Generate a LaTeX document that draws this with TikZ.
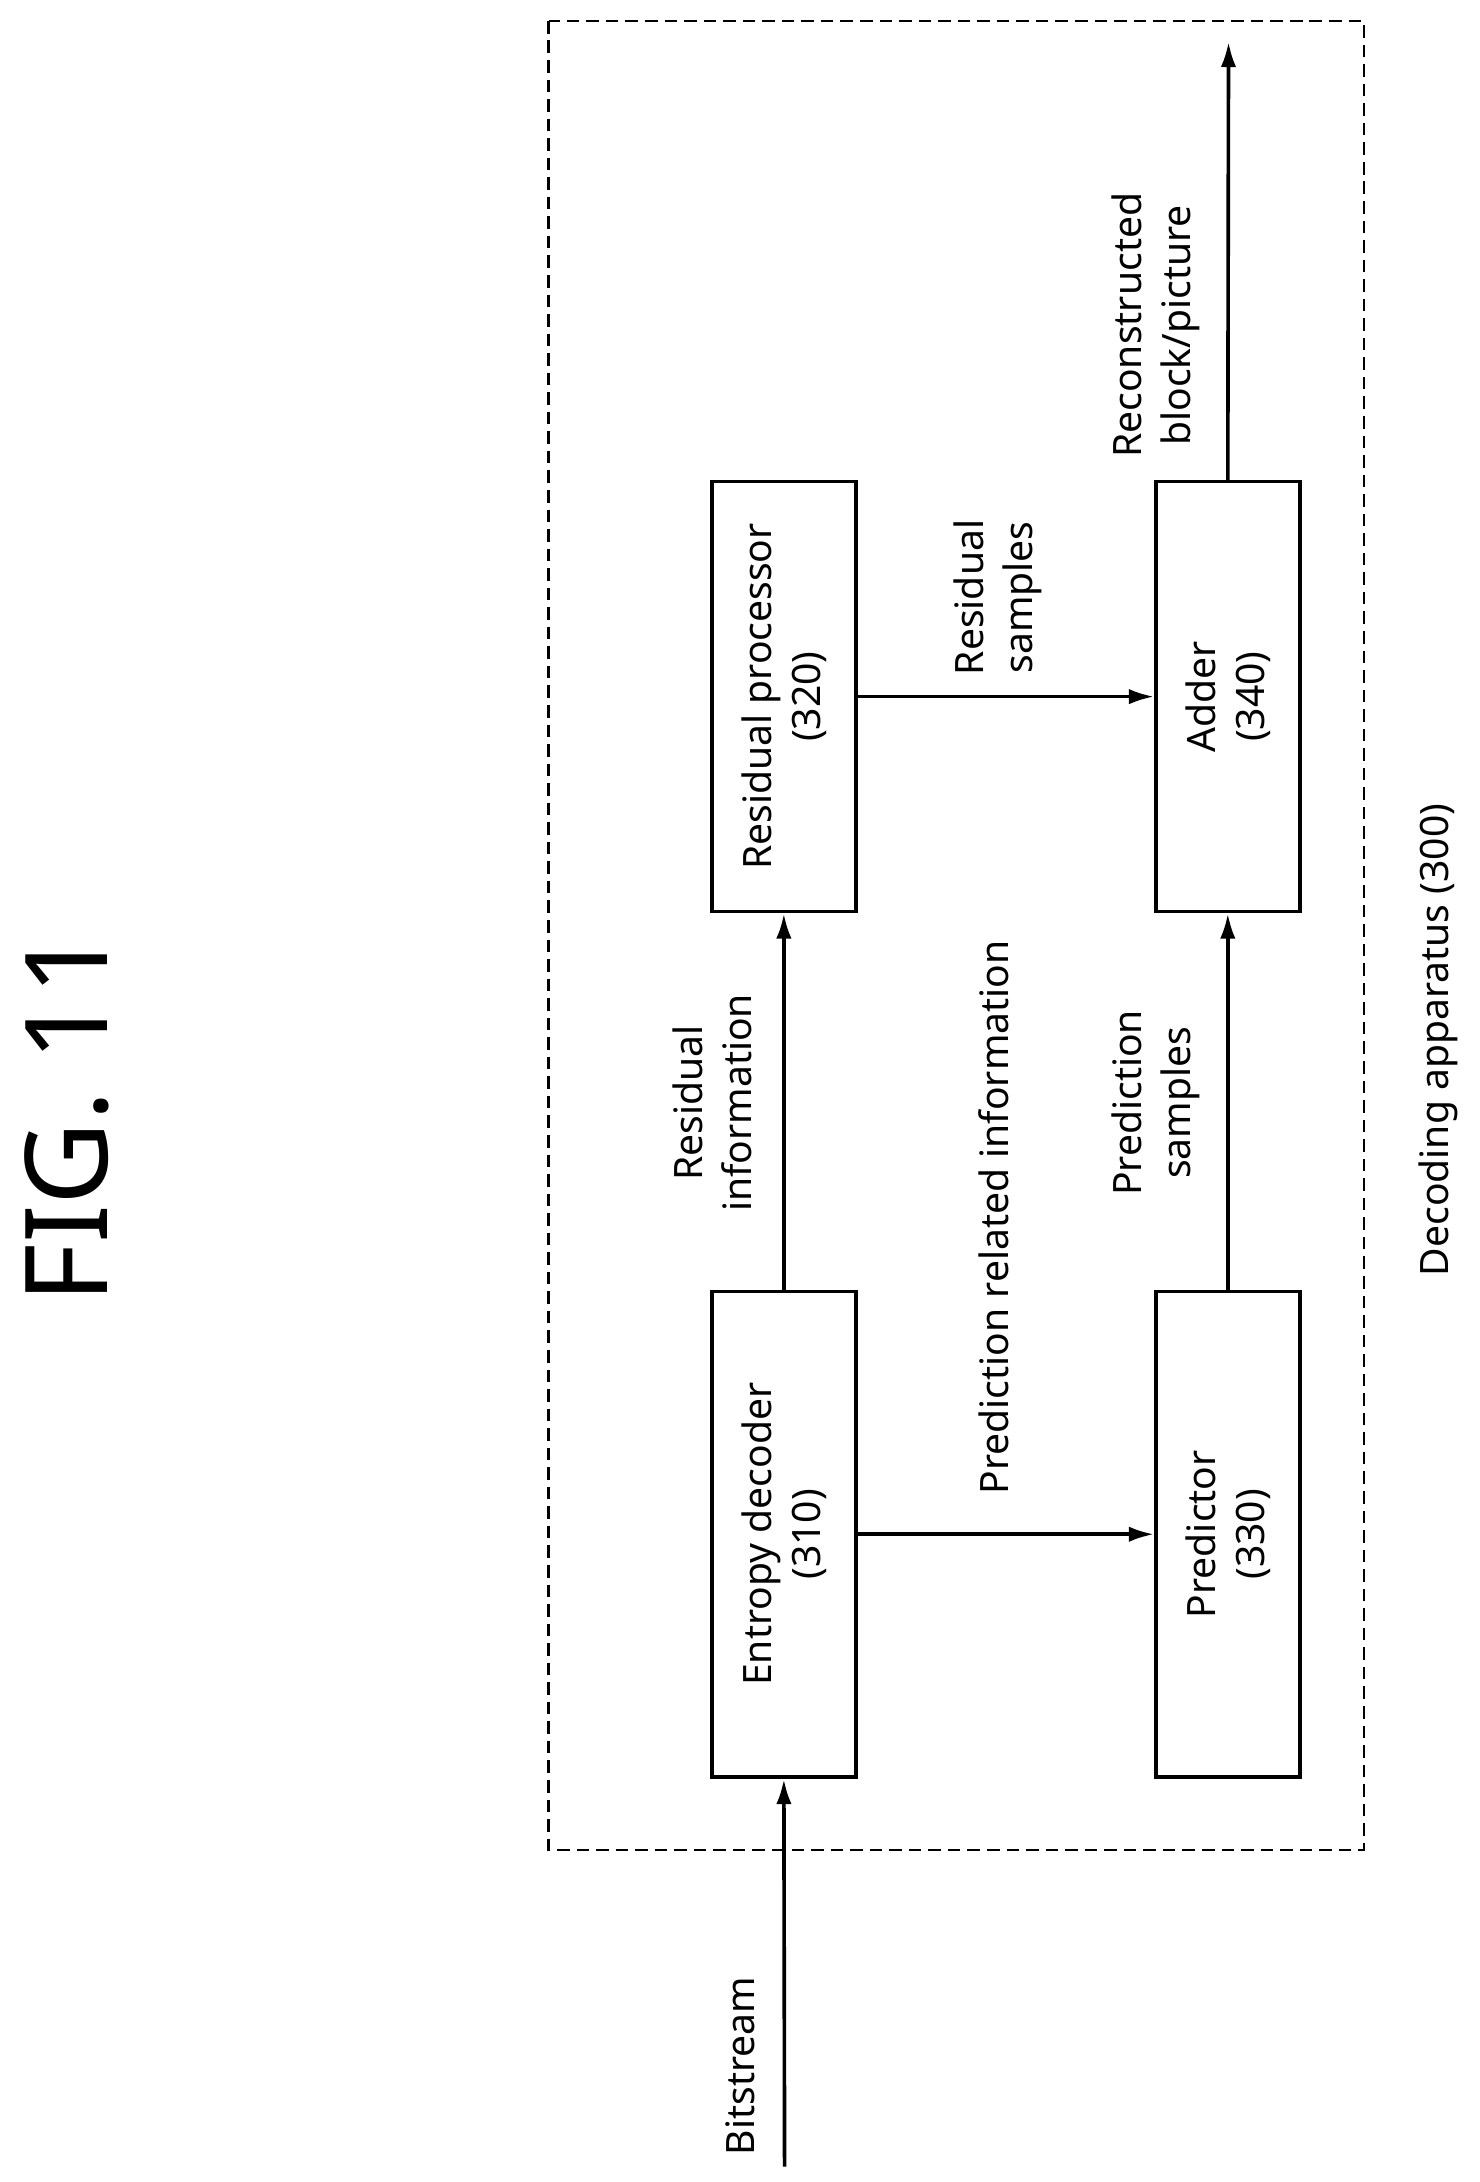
\documentclass[tikz,border=0pt]{standalone}
\usepackage{fontspec}
\setmainfont{Noto Sans}
\usetikzlibrary{arrows.meta}
\begin{document}
\begin{tikzpicture}[x=1pt,y=-1pt,
  box/.style={draw,line width=2.6pt,minimum width=348pt,minimum height=103pt,rotate=90,align=center,font=\fontsize{28}{35}\selectfont,inner sep=0pt},
  lab/.style={rotate=90,align=center,font=\fontsize{28}{35}\selectfont},
  arr/.style={line width=2.6pt,-{Latex[length=18pt,width=11pt]}}]
\useasboundingbox (0,0) rectangle (1060,1563);
\draw[dash pattern=on 9pt off 5pt,line width=1.8pt] (393,15) rectangle (977,1325);
\node[box] (ed) at (561.5,1099) {Entropy decoder\\(310)};
\node[box,minimum width=308pt] (rp) at (561.5,499) {Residual processor\\(320)};
\node[box] (pr) at (879.5,1099) {Predictor\\(330)};
\node[box,minimum width=308pt] (ad) at (879.5,499) {Adder\\(340)};
\coordinate (bs) at (562,1552);
\coordinate (out) at (880,30);
\draw[arr] (bs) -- (ed.west);
\draw[arr] (ed.east) -- (rp.west);
\draw[arr] (ed.south) -- (pr.north);
\draw[arr] (rp.south) -- (ad.north);
\draw[arr] (pr.east) -- (ad.west);
\draw[arr] (ad.east) -- (out);
\node[lab] (l1) at (530,1480) {Bitstream};
\node[lab] (l2) at (510,790) {Residual\\information};
\node[lab] (l3) at (712,872) {Prediction related information};
\node[lab] (l4) at (715,428) {Residual\\samples};
\node[lab] (l5) at (828,790) {Prediction\\samples};
\node[lab] (l6) at (828,233) {Reconstructed\\block/picture};
\node[lab] (l7) at (1030,745) {Decoding apparatus (300)};
\node[rotate=90,font=\fontsize{82}{90}\selectfont] (fig) at (48,800) {FIG. 11};
\end{tikzpicture}
\end{document}
